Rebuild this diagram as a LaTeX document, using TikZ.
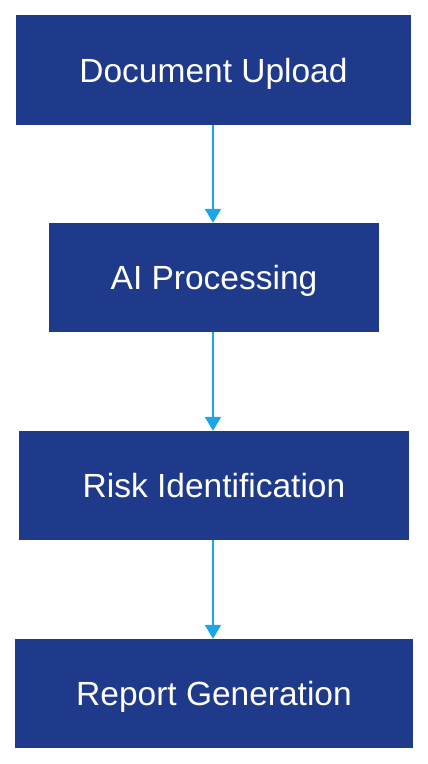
\documentclass[tikz,border=0pt]{standalone}
\usepackage{fontspec}
\setmainfont{Liberation Sans}
\usetikzlibrary{arrows.meta}
\definecolor{boxblue}{HTML}{1F3A8A}
\definecolor{arrowblue}{HTML}{1AA5E8}
\begin{document}
\begin{tikzpicture}[x=1pt,y=-1pt,
  stepbox/.style={draw=none,fill=boxblue,text=white,inner sep=0pt,text height=24pt,text depth=0pt,font=\fontsize{33.5}{40}\selectfont},
  flow/.style={draw=arrowblue,line width=2.2pt,-{Triangle[length=14pt,width=16pt]}}]
\useasboundingbox (0,0) rectangle (428,764);
\node[stepbox,minimum width=395pt,minimum height=110pt] (a) at (213.5,70) {Document Upload};
\node[stepbox,minimum width=330pt,minimum height=109pt] (b) at (214,277.5) {AI Processing};
\node[stepbox,minimum width=390pt,minimum height=109pt] (c) at (214,485.5) {Risk Identification};
\node[stepbox,minimum width=398pt,minimum height=109pt] (d) at (214,693.5) {Report Generation};
\draw[flow] (a.south -| 213,0) -- (b.north -| 213,0);
\draw[flow] (b.south -| 213,0) -- (c.north -| 213,0);
\draw[flow] (c.south -| 213,0) -- (d.north -| 213,0);
\end{tikzpicture}
\end{document}
